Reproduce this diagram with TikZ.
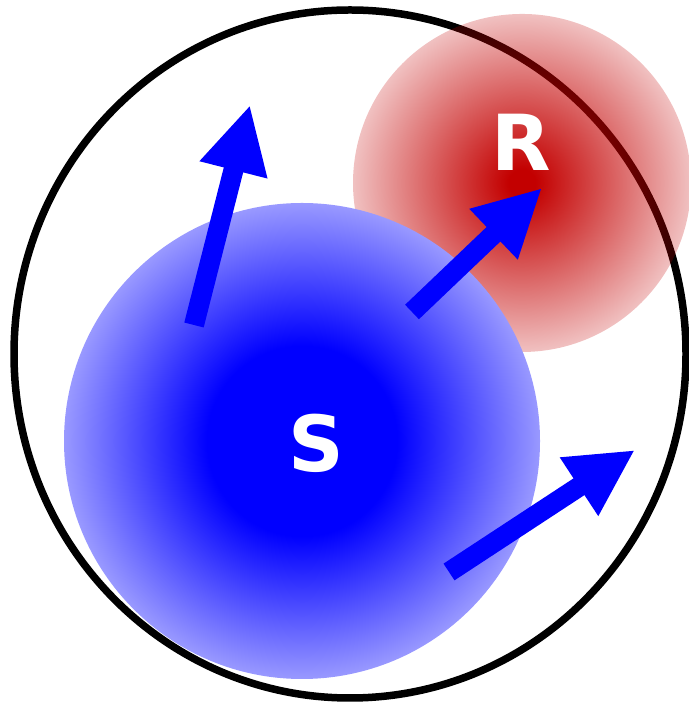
\documentclass[tikz,border=0pt]{standalone}
\usepackage{fontspec}
\setsansfont{DejaVu Sans}
\usetikzlibrary{arrows.meta,fadings}
\definecolor{ballred}{RGB}{195,0,0}
\pgfdeclareradialshading{blueball}{\pgfpointorigin}{color(0bp)=(blue); color(10bp)=(blue); color(25bp)=(blue!40); color(50bp)=(blue!40)}
\pgfdeclareradialshading{redmask}{\pgfpointorigin}{color(0bp)=(pgftransparent!0); color(2bp)=(pgftransparent!0); color(25bp)=(pgftransparent!76); color(50bp)=(pgftransparent!76)}
\pgfdeclarefading{redfade}{\pgfuseshading{redmask}}
\begin{document}
\begin{tikzpicture}[x=0.02cm,y=0.02cm,
    vec/.style={blue,line width=0.4cm,-{Triangle[length=1.34cm,width=1.3cm]}},
    ballname/.style={text=white,font=\sffamily\bfseries\fontsize{44}{44}\selectfont,inner sep=0pt}]
  \useasboundingbox (0,0) rectangle (689,706);
  \coordinate (wc) at (350,352);
  \coordinate (sc) at (302,265);
  \coordinate (rc) at (522,523);
  % the cell wall, the R cloud and the S ball
  \draw[line width=0.15cm] (wc) ellipse (336 and 344);
  \fill[ballred,path fading=redfade] (rc) circle (169);
  \begin{scope}
    \clip (wc) ellipse (332 and 340);
    \shade[shading=blueball] (sc) circle (238);
  \end{scope}
  % velocity arrows
  \coordinate (a1) at (194,381);  \coordinate (b1) at (250,601);
  \coordinate (a2) at (412,394);  \coordinate (b2) at (542,518);
  \coordinate (a3) at (449,134);  \coordinate (b3) at (635,256);
  \draw[vec] (a1) -- (b1);
  \draw[vec] (a2) -- (b2);
  \draw[vec] (a3) -- (b3);
  \node[ballname] (S) at (316,263) {S};
  \node[ballname] (R) at (521,564) {R};
\end{tikzpicture}
\end{document}
